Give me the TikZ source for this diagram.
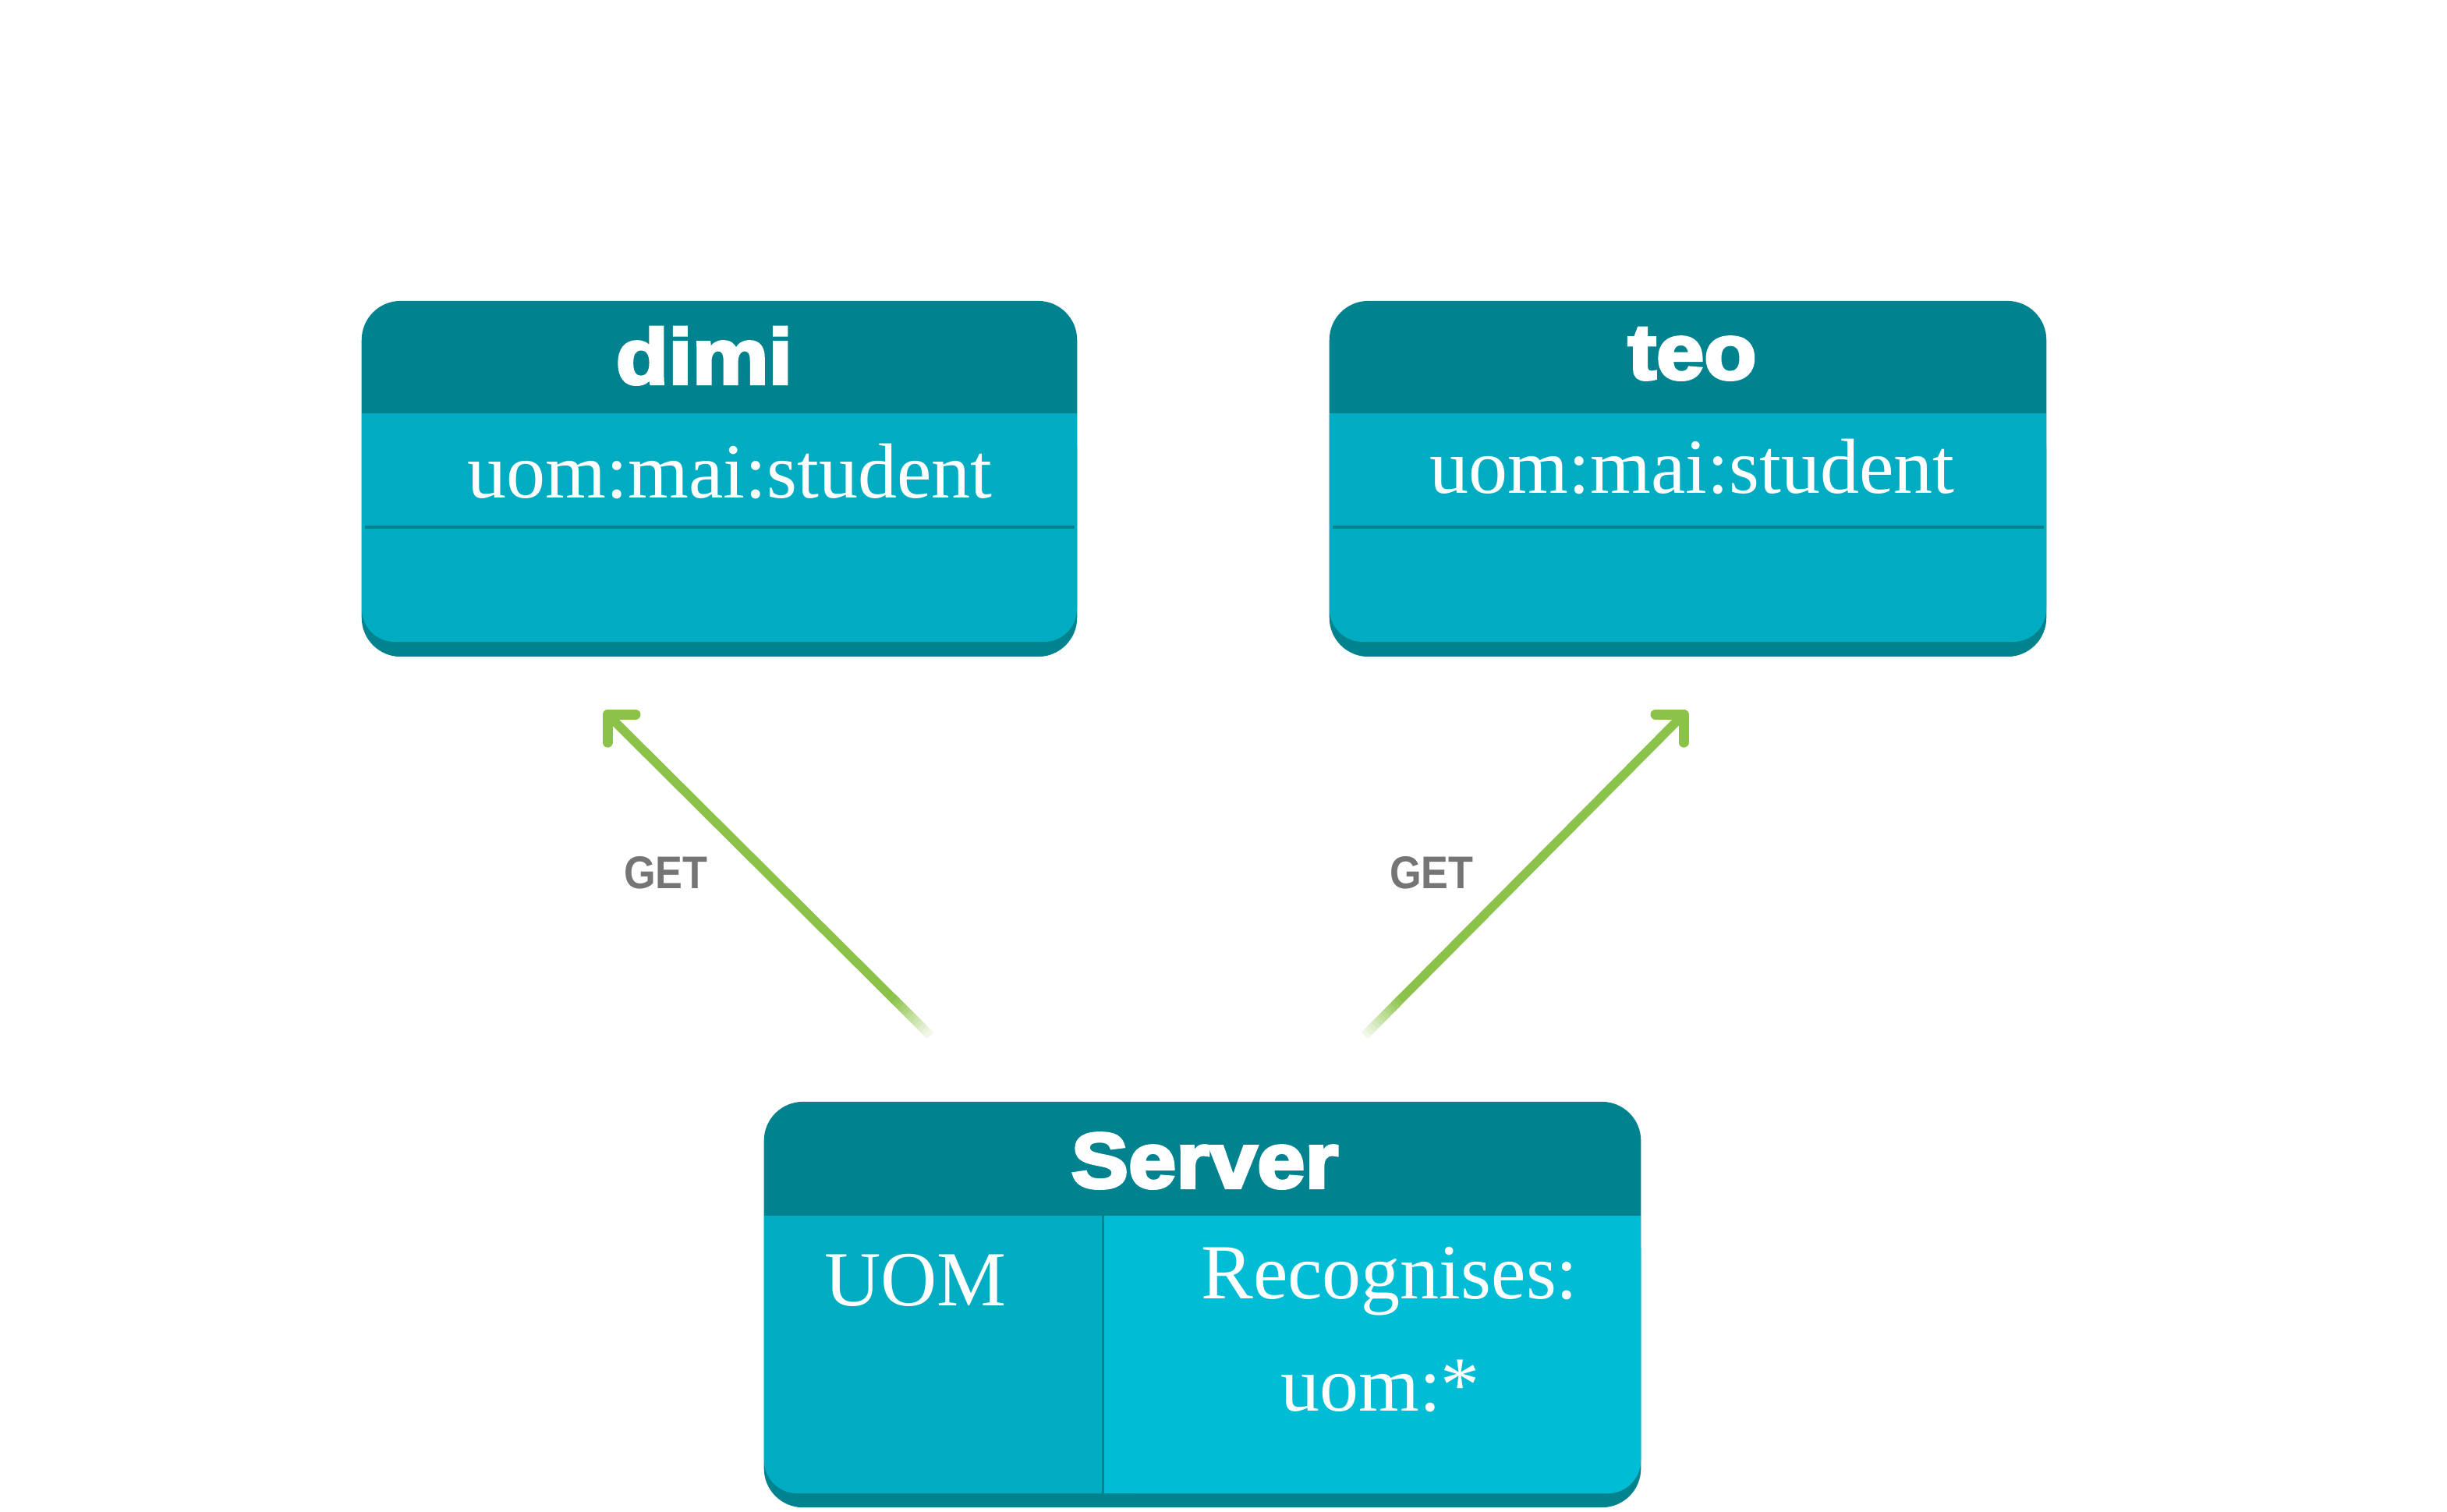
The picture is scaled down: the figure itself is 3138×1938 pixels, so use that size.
\documentclass[tikz,border=0pt]{standalone}
\usepackage{fontspec}
\setmainfont{Liberation Serif}
\newfontfamily\titlefont{Liberation Sans}[FakeStretch=1.1, BoldFeatures={FakeBold=4}]
\newfontfamily\getfont{Liberation Sans}[FakeStretch=0.89]
\usetikzlibrary{calc}
\definecolor{hdr}{HTML}{00838F}
\definecolor{bodyA}{HTML}{00ACC1}
\definecolor{bodyB}{HTML}{00BCD4}
\definecolor{arrowgreen}{HTML}{8BC34A}
\definecolor{getgray}{HTML}{757575}
\tikzset{
  boxshape/.style={rectangle, rounded corners=0.5cm, fill=hdr, inner sep=0pt, outer sep=0pt},
  bodyfill/.style={rounded corners=0.42cm},
  titletext/.style={text=white, font=\titlefont\bfseries\fontsize{28.45}{30}\selectfont, anchor=base, inner sep=0pt},
  attrtext/.style={text=white, font=\fontsize{28.45}{30}\selectfont, anchor=base, inner sep=0pt},
  gettext/.style={text=getgray, font=\getfont\bfseries\fontsize{16.7}{18}\selectfont, anchor=base, inner sep=0pt},
  flow/.style={draw=arrowgreen, line width=0.115cm, line cap=butt},
  head/.style={draw=arrowgreen, line width=0.13cm, line cap=round, line join=round},
  sepline/.style={draw=hdr, line width=0.04cm},
}
\begin{document}
\begin{tikzpicture}[x=0.01cm, y=-0.01cm]
\useasboundingbox (0,0) rectangle (3138,1938);
\fill[white] (0,0) rectangle (3138,1938);

% ---- dimi box
\node[boxshape, minimum width=9.17cm, minimum height=4.56cm] (dimi) at (922.5,614) {};
\fill[bodyA, bodyfill] (464,530) rectangle (1381,823);
\fill[bodyA] (464,530) rectangle (1381,600);
\draw[sepline] (468,676) -- (1378,676);
\node[titletext] (dimititle) at (903,492) {dimi};
\node[attrtext] (dimiattr) at (936,638) {uom:mai:student};

% ---- teo box
\node[boxshape, minimum width=9.19cm, minimum height=4.56cm] (teo) at (2164.5,614) {};
\fill[bodyA, bodyfill] (1705,530) rectangle (2624,823);
\fill[bodyA] (1705,530) rectangle (2624,600);
\draw[sepline] (1709,676) -- (2621,676);
\node[titletext] (teotitle) at (2170,486) {teo};
\node[attrtext] (teoattr) at (2170,632) {uom:mai:student};

% ---- Server box
\node[boxshape, minimum width=11.24cm, minimum height=5.2cm] (server) at (1542,1673) {};
\fill[bodyA, bodyfill] (980,1559) rectangle (2104,1915);
\fill[bodyA] (980,1559) rectangle (2104,1650);
\fill[bodyB, bodyfill] (1416,1559) rectangle (2104,1915);
\fill[bodyB] (1416,1559) rectangle (2104,1650);
\fill[bodyB] (1416,1559) rectangle (1700,1915);
\draw[draw=hdr, line width=0.03cm] (1414,1559) -- (1414,1915);
\node[titletext] (servertitle) at (1545,1523) {Server};
\node[attrtext] (uom) at (1174,1674) {UOM};
\node[attrtext] (recog) at (1782,1665) {Recognises:};
\node[attrtext] (uomstar) at (1770,1809) {uom:*};

% ---- arrows
\coordinate (tipL) at ($(dimi.south)+(-143.5,74)$);
\coordinate (tailL) at ($(server.north)+(-349,-85)$);
\coordinate (tipR) at ($(teo.south)+(-5.5,74)$);
\coordinate (tailR) at ($(server.north)+(208,-85)$);

\draw[flow] (tipL) -- ($(tipL)!0.88!(tailL)$);
\draw[flow] (tipR) -- ($(tipR)!0.88!(tailR)$);
\foreach \i in {0,...,11} {
  \pgfmathsetmacro\fa{0.88+0.01*\i}
  \pgfmathsetmacro\fb{min(0.885+0.01*(\i+1),1)}
  \pgfmathtruncatemacro\fc{100-8*\i}
  \draw[flow, draw=arrowgreen!\fc!white] ($(tipL)!\fa!(tailL)$) -- ($(tipL)!\fb!(tailL)$);
  \draw[flow, draw=arrowgreen!\fc!white] ($(tipR)!\fa!(tailR)$) -- ($(tipR)!\fb!(tailR)$);
}
\draw[head] ($(tipL)+(36,0)$) -- (tipL) -- ($(tipL)+(0,36)$);
\draw[head] ($(tipR)+(-36,0)$) -- (tipR) -- ($(tipR)+(0,36)$);

\node[gettext] (getL) at (854,1139) {GET};
\node[gettext] (getR) at (1836,1139) {GET};
\end{tikzpicture}
\end{document}
